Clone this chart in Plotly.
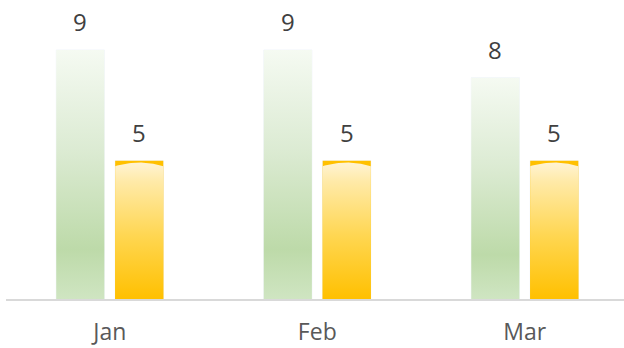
import plotly.graph_objects as go

# Monthly values for the two series
months = ["Jan", "Feb", "Mar"]
series_a = [9, 9, 8]   # green series
series_b = [5, 5, 5]   # amber series

# Bar geometry on the numeric category axis
BAR_W = 0.232
OFF_A = -0.258
OFF_B = 0.026

GREEN_SCALE = [
    [0.0, "#cfe5c2"],
    [0.2, "#bddaa9"],
    [0.6, "#dcebd3"],
    [1.0, "#f5faf2"],
]
AMBER_SCALE = [
    [0.0, "#ffc000"],
    [0.45, "#ffd650"],
    [0.85, "#ffeaa8"],
    [1.0, "#fff4d8"],
]
AMBER_EDGE = "#ffc000"
FONT = "Open Sans"
FONT_SIZE = 24
TICK_SIZE = 23

xs = list(range(len(months)))
fig = go.Figure()

# Invisible bar traces keep the category structure and hover values
fig.add_trace(go.Bar(x=xs, y=series_a, width=BAR_W, offset=OFF_A,
                     marker=dict(color="rgba(0,0,0,0)"), name="A",
                     hovertext=months, showlegend=False))
fig.add_trace(go.Bar(x=xs, y=series_b, width=BAR_W, offset=OFF_B,
                     marker=dict(color="rgba(0,0,0,0)"), name="B",
                     hovertext=months, showlegend=False))


def rect(x0, x1, y_top):
    return [x0, x1, x1, x0, x0], [0, 0, y_top, y_top, 0]


for i, v in enumerate(series_a):
    x0 = i + OFF_A
    px, py = rect(x0, x0 + BAR_W, v)
    fig.add_trace(go.Scatter(
        x=px, y=py, mode="lines", fill="toself", line=dict(width=0),
        fillgradient=dict(type="vertical", colorscale=GREEN_SCALE, start=0, stop=v),
        hoverinfo="skip", showlegend=False))

for i, v in enumerate(series_b):
    x0 = i + OFF_B
    x1 = x0 + BAR_W
    # solid amber body (shows as the top rim and the corners)
    px, py = rect(x0, x1, v)
    fig.add_trace(go.Scatter(
        x=px, y=py, mode="lines", fill="toself", line=dict(width=0),
        fillcolor=AMBER_EDGE, hoverinfo="skip", showlegend=False))
    # glossy gradient face with an arched top edge
    n = 24
    arc_x, arc_y = [], []
    for k in range(n + 1):
        t = k / n
        u = 2 * t - 1
        arc_x.append(x0 + t * BAR_W)
        arc_y.append(v - 0.07 - 0.13 * (u * u))
    gx = [x0] + arc_x + [x1, x0]
    gy = [0] + arc_y + [0, 0]
    fig.add_trace(go.Scatter(
        x=gx, y=gy, mode="lines", fill="toself", line=dict(width=0),
        fillgradient=dict(type="vertical", colorscale=AMBER_SCALE, start=0, stop=v),
        hoverinfo="skip", showlegend=False))

# Value labels above each bar
annotations = []
for offset, values in ((OFF_A, series_a), (OFF_B, series_b)):
    for i, v in enumerate(values):
        annotations.append(dict(x=i + offset + BAR_W / 2, y=v, text=str(v),
                                xref="x", yref="y", showarrow=False,
                                yanchor="bottom", yshift=10,
                                font=dict(family=FONT, size=FONT_SIZE, color="#404040")))

fig.update_layout(
    width=624, height=348,
    margin=dict(l=6, r=0, t=0, b=49),
    paper_bgcolor="white", plot_bgcolor="white",
    barmode="overlay",
    annotations=annotations,
    xaxis=dict(range=[-0.5, 2.478], tickmode="array", tickvals=xs, ticktext=months,
               automargin=False,
               showgrid=False, zeroline=False, showline=True,
               linecolor="#d9d9d9", linewidth=1.5, ticks="",
               ticklabelstandoff=12,
               tickfont=dict(family=FONT, size=TICK_SIZE, color="#595959")),
    yaxis=dict(range=[0, 10.806], visible=False, showgrid=False, zeroline=False,
               automargin=False),
)

fig.write_html("out.html")
